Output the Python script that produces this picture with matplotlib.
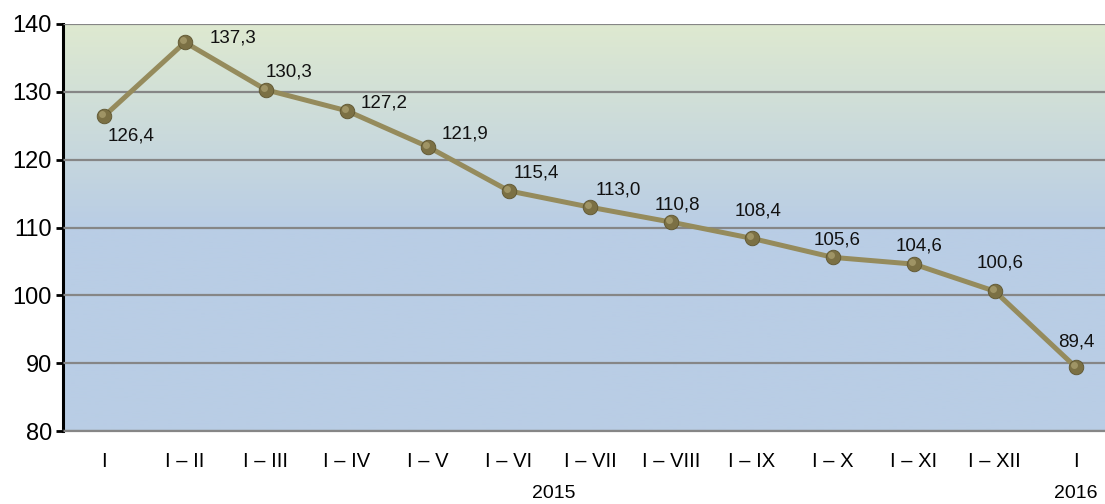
import numpy as np
import matplotlib
matplotlib.use("Agg")
import matplotlib.pyplot as plt
from matplotlib.colors import LinearSegmentedColormap
from matplotlib.transforms import offset_copy, blended_transform_factory

plt.rcParams["font.family"] = ["Liberation Sans", "DejaVu Sans"]

# data
periods = ["I", "I – II", "I – III", "I – IV", "I – V", "I – VI", "I – VII",
           "I – VIII", "I – IX", "I – X", "I – XI", "I – XII", "I"]
values = [126.4, 137.3, 130.3, 127.2, 121.9, 115.4, 113.0,
          110.8, 108.4, 105.6, 104.6, 100.6, 89.4]
labels = ["126,4", "137,3", "130,3", "127,2", "121,9", "115,4", "113,0",
          "110,8", "108,4", "105,6", "104,6", "100,6", "89,4"]
years = ["2015", "2016"]
year_pos = [5.55, 12]

# label offsets (px: to left edge, to vertical centre)
label_off = [(4, -20), (25, 4), (0, 18), (14, 8), (14, 13), (5, 18), (6, 17),
             (-16, 17), (-17, 27), (-19, 17), (-18, 18), (-18, 28), (-18, 25)]

C_LINE = "#958b5c"
C_MARK = "#7b7044"
C_HIGH = "#b8ad7c"
C_GRID = "#868686"

fig = plt.figure(figsize=(11.05, 5.04), dpi=100)
ax = fig.add_axes([63 / 1105, 1 - 431 / 504, 1 - 63 / 1105, 407 / 504])

x = np.arange(len(values))
xmin, xmax = -0.506, 12.36
ymin, ymax = 80, 140
ax.set_xlim(xmin, xmax)
ax.set_ylim(ymin, ymax)

# background gradient: green at top -> blue around 110, then flat blue
cmap = LinearSegmentedColormap.from_list(
    "bg", [(0.0, "#b9cde5"), (0.5, "#b9cde5"), (1.0, "#dee9d0")])
grad = np.linspace(0, 1, 300).reshape(-1, 1)
ax.imshow(grad, cmap=cmap, aspect="auto", origin="lower",
          extent=[xmin, xmax, ymin, ymax], zorder=0)

ax.set_yticks(np.arange(80, 141, 10))
ax.grid(axis="y", color=C_GRID, lw=1.6, zorder=1)
ax.set_axisbelow(False)

ax.plot(x, values, color=C_LINE, lw=3.6, zorder=3, solid_capstyle="round")
ax.plot(x, values, ls="none", marker="o", ms=10.5, mfc=C_MARK,
        mec="#5e5530", mew=0.6, zorder=4)
hl = offset_copy(ax.transData, fig=fig, x=-1.5, y=1.5, units="points")
ax.plot(x, values, ls="none", marker="o", ms=5, mfc=C_HIGH, mec="none",
        alpha=0.6, transform=hl, zorder=5)

for xi, v, lab, (dx, dy) in zip(x, values, labels, label_off):
    ax.annotate(lab, (xi, v), xytext=(dx * 0.72, dy * 0.72),
                textcoords="offset points", ha="left", va="center",
                fontsize=13.5, color="#111111", zorder=6)

ax.set_xticks(x)
ax.set_xticklabels(periods)
ax.tick_params(axis="x", length=0, pad=15, labelsize=14.5)
ax.tick_params(axis="y", length=5, width=2, direction="out", pad=3,
               labelsize=17, color="black")

trans = blended_transform_factory(ax.transData, ax.transAxes)
for yr, xp in zip(years, year_pos):
    ax.text(xp, -0.153, yr, transform=trans, ha="center", va="center",
            fontsize=14)

for side in ["top", "right"]:
    ax.spines[side].set_visible(False)
ax.spines["bottom"].set_color(C_GRID)
ax.spines["bottom"].set_linewidth(1.6)
ax.spines["left"].set_color("black")
ax.spines["left"].set_linewidth(2.2)

fig.savefig("out.png", dpi=100)
plt.close(fig)
